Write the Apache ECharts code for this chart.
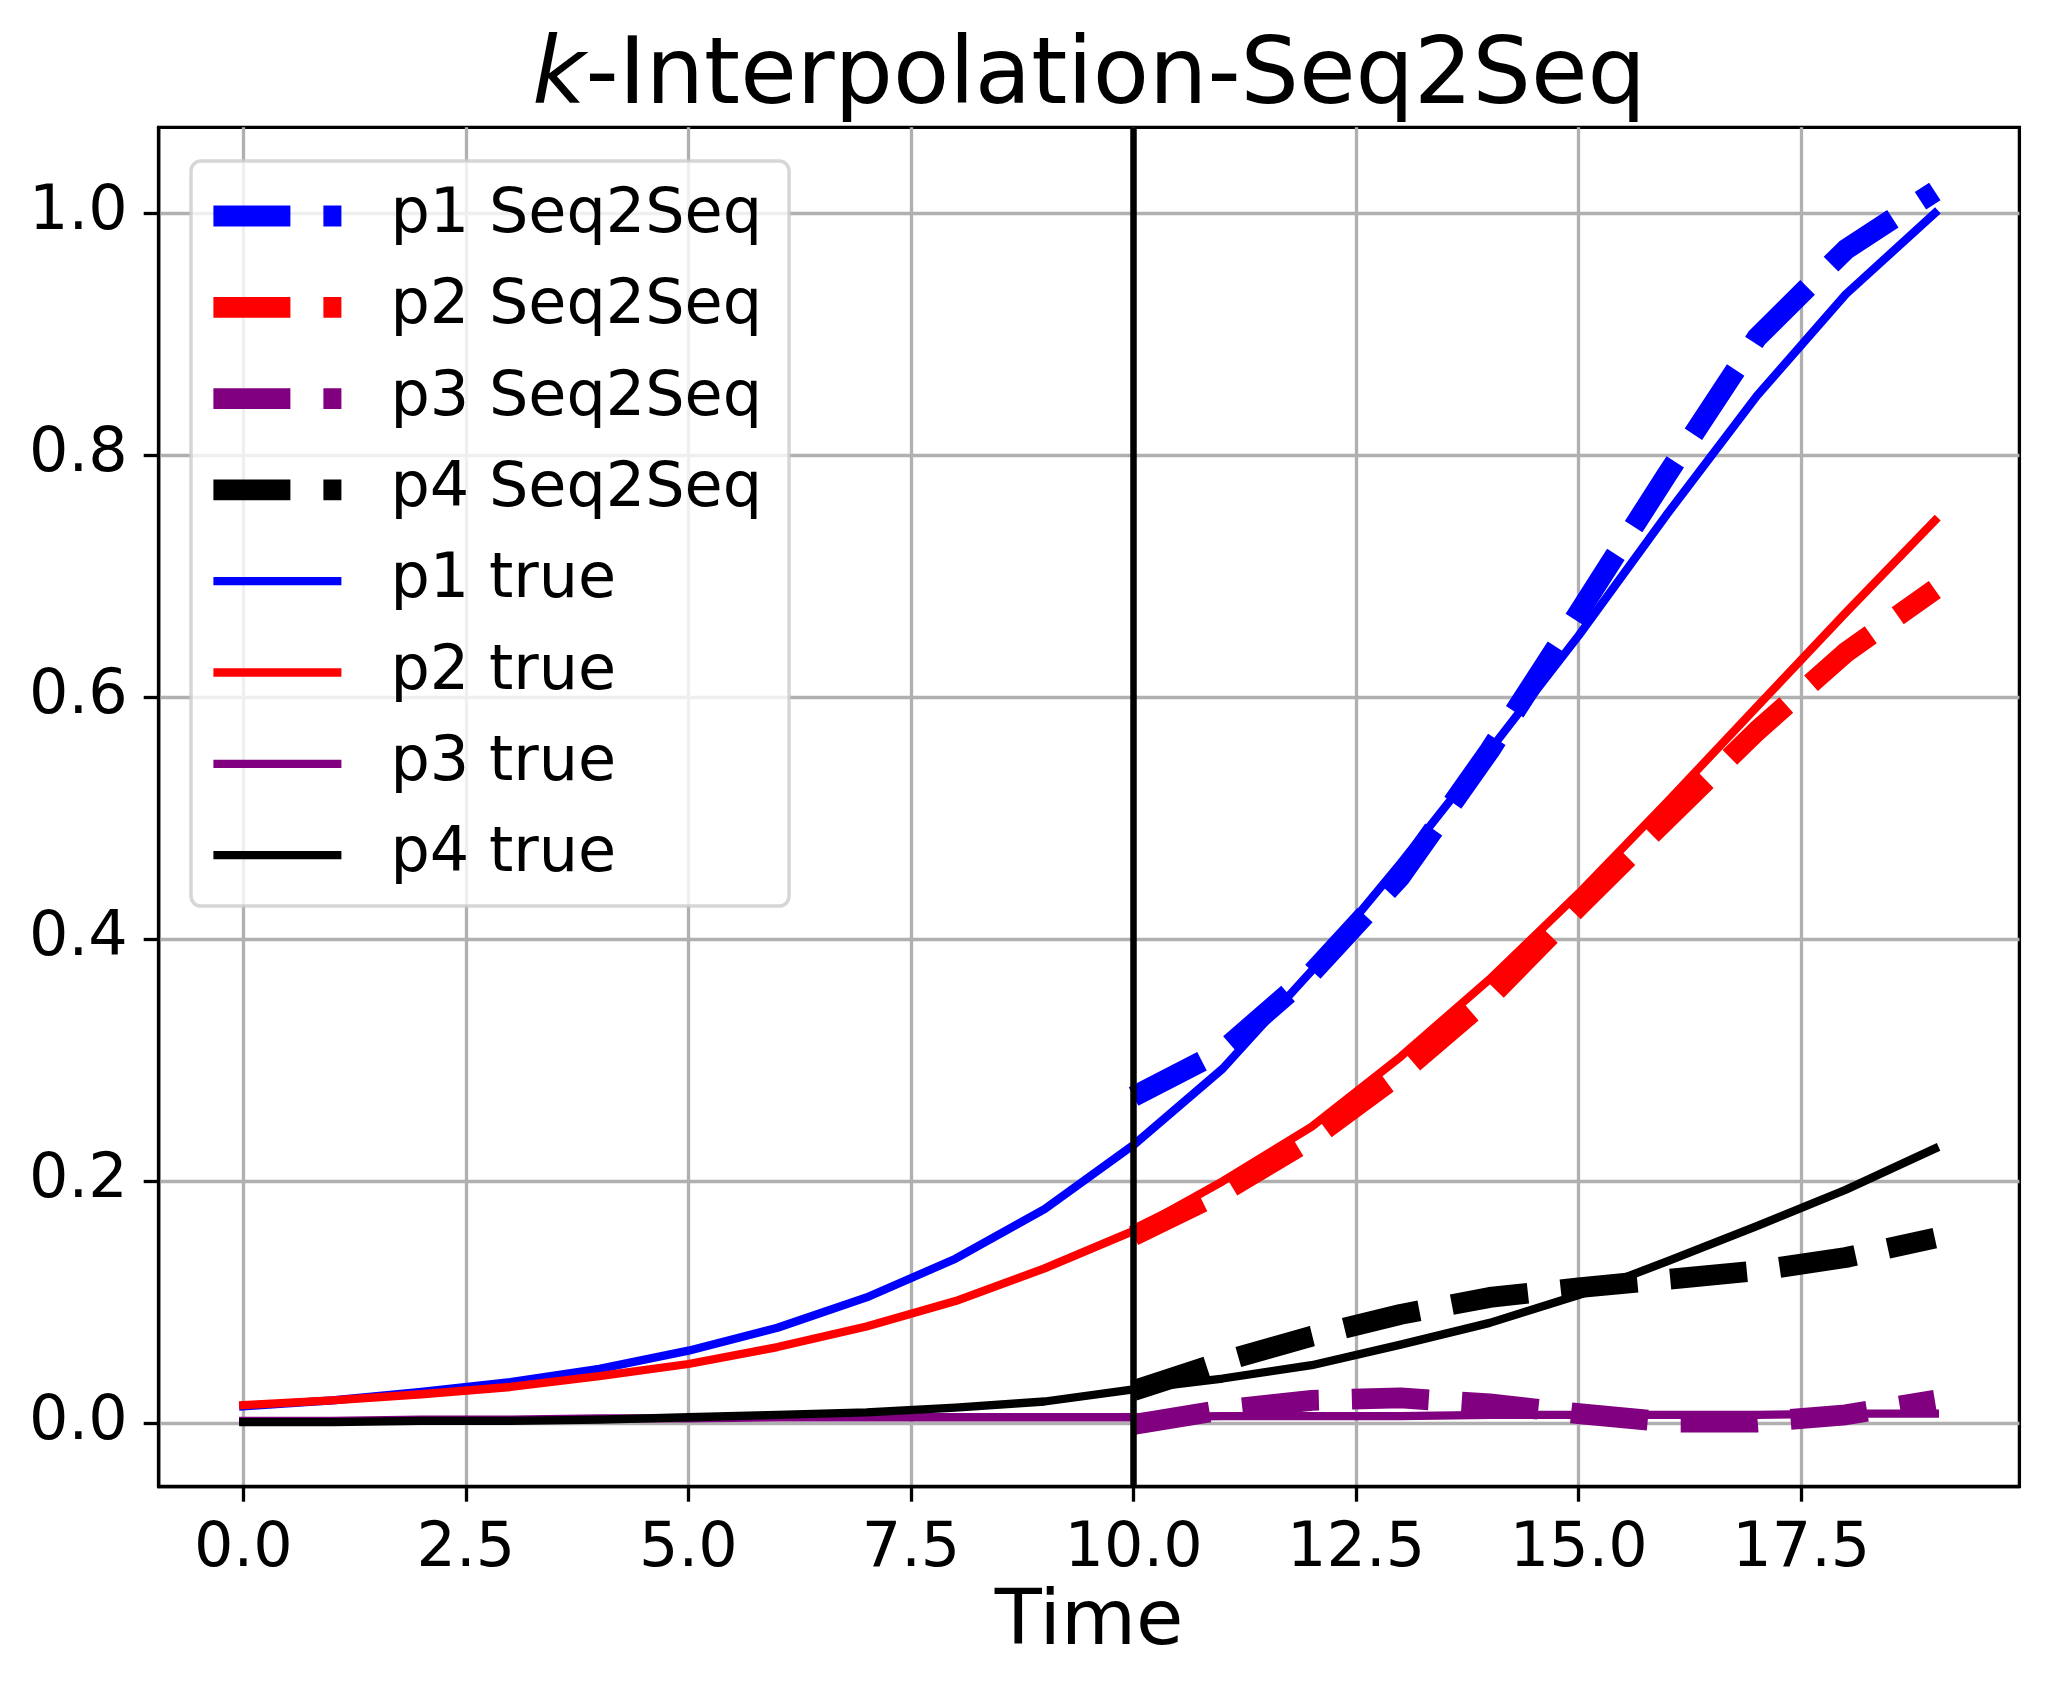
<!DOCTYPE html>
<html>
<head>
<meta charset="utf-8">
<script src="https://cdn.jsdelivr.net/npm/echarts@6/dist/echarts.min.js"></script>
<style>
  html, body { margin: 0; padding: 0; background: #fff; }
  #chart { width: 2048px; height: 1695px; }
</style>
</head>
<body>
<div id="chart"></div>
<script>
// time steps
const timeTrue = [0, 1, 2, 3, 4, 5, 6, 7, 8, 9, 10, 11, 12, 13, 14, 15, 16, 17, 18, 19]
const timePred = [10, 11, 12, 13, 14, 15, 16, 17, 18, 19]

// ground truth
const p1True = [0.014, 0.019, 0.026, 0.034, 0.045, 0.060, 0.079, 0.104, 0.136, 0.177, 0.230, 0.293, 0.374, 0.463, 0.556, 0.651, 0.752, 0.849, 0.933, 1.000]
const p2True = [0.015, 0.019, 0.024, 0.030, 0.039, 0.049, 0.063, 0.080, 0.101, 0.128, 0.159, 0.200, 0.245, 0.303, 0.367, 0.438, 0.514, 0.592, 0.670, 0.746]
const p3True = [0.002, 0.002, 0.003, 0.003, 0.004, 0.004, 0.005, 0.005, 0.005, 0.005, 0.005, 0.006, 0.006, 0.006, 0.007, 0.007, 0.007, 0.007, 0.008, 0.008]
const p4True = [0.001, 0.001, 0.002, 0.002, 0.003, 0.005, 0.007, 0.009, 0.013, 0.018, 0.028, 0.037, 0.048, 0.065, 0.083, 0.106, 0.134, 0.163, 0.193, 0.227]

// Seq2Seq predictions (from t = 10)
const p1Pred = [0.270, 0.308, 0.372, 0.452, 0.556, 0.670, 0.785, 0.897, 0.970, 1.018]
const p2Pred = [0.155, 0.191, 0.235, 0.289, 0.352, 0.427, 0.500, 0.572, 0.637, 0.689]
const p3Pred = [-0.001, 0.011, 0.019, 0.021, 0.016, 0.008, 0.001, 0.001, 0.007, 0.019]
const p4Pred = [0.027, 0.051, 0.072, 0.090, 0.104, 0.112, 0.119, 0.126, 0.137, 0.153]

const xTicks = [0, 2.5, 5, 7.5, 10, 12.5, 15, 17.5]
const yTicks = [0, 0.2, 0.4, 0.6, 0.8, 1.0]
const splitTime = 10

const FONT = 'DejaVu Sans'
const THICK = 20.8
const THIN = 8.3
const DASH = [77, 33]
const TITLE_SIZE = 92

const chart = echarts.init(document.getElementById('chart'))

const pairs = (xs, ys) => xs.map((x, i) => [x, ys[i]])

const predLine = (name, color, xs, ys) => ({
  name: name,
  type: 'line',
  symbol: 'none',
  data: pairs(xs, ys),
  lineStyle: {color: color, width: THICK, type: DASH, cap: 'butt', join: 'round'},
  itemStyle: {color: color},
  z: 2
})
const trueLine = (name, color, xs, ys) => ({
  name: name,
  type: 'line',
  symbol: 'none',
  data: pairs(xs, ys),
  lineStyle: {color: color, width: THIN, type: 'solid', cap: 'square', join: 'round'},
  itemStyle: {color: color},
  z: 3
})

const series = [
  predLine('p1 Seq2Seq', '#0000ff', timePred, p1Pred),
  predLine('p2 Seq2Seq', '#ff0000', timePred, p2Pred),
  predLine('p3 Seq2Seq', '#800080', timePred, p3Pred),
  predLine('p4 Seq2Seq', '#000000', timePred, p4Pred),
  trueLine('p1 true', '#0000ff', timeTrue, p1True),
  trueLine('p2 true', '#ff0000', timeTrue, p2True),
  trueLine('p3 true', '#800080', timeTrue, p3True),
  trueLine('p4 true', '#000000', timeTrue, p4True)
]
// vertical line at the split point
series[7].markLine = {
  silent: true,
  symbol: 'none',
  label: {show: false},
  lineStyle: {color: '#000', width: 6.5, type: 'solid'},
  data: [{xAxis: splitTime}]
}

// centre the title over the plot area
const gridLeft = 158.7, gridRight = 28.6
const ctx = document.createElement('canvas').getContext('2d')
ctx.font = 'italic ' + TITLE_SIZE + 'px "' + FONT + '"'
let titleW = ctx.measureText('k').width
ctx.font = TITLE_SIZE + 'px "' + FONT + '"'
titleW += ctx.measureText('-Interpolation-Seq2Seq').width
const plotCenter = gridLeft + (2048 - gridLeft - gridRight) / 2

const option = {
  animation: false,
  backgroundColor: '#fff',
  title: {
    text: '{i|k}-Interpolation-Seq2Seq',
    left: plotCenter - titleW / 2,
    top: 33,
    padding: 0,
    textStyle: {
      fontFamily: FONT, fontSize: TITLE_SIZE, fontWeight: 'normal', color: '#000', lineHeight: 92,
      rich: {i: {fontFamily: FONT, fontSize: TITLE_SIZE, fontStyle: 'italic', color: '#000', lineHeight: 92}}
    }
  },
  legend: {
    orient: 'vertical',
    left: 191,
    top: 161,
    data: series.map(s => ({
      name: s.name,
      lineStyle: {width: s.lineStyle.width, type: s.lineStyle.type, color: s.lineStyle.color, cap: 'butt'}
    })),
    itemWidth: 128,
    itemHeight: 60,
    itemGap: 29.3,
    padding: [24, 27, 20, 12],
    backgroundColor: 'rgba(255,255,255,0.8)',
    borderColor: 'rgba(204,204,204,0.8)',
    borderWidth: 3.5,
    borderRadius: 10,
    selectedMode: false,
    itemStyle: {opacity: 0},
    textStyle: {fontFamily: FONT, fontSize: 62, color: '#000', lineHeight: 60, padding: [0, 0, 0, 44]}
  },
  grid: {
    left: gridLeft, right: gridRight, top: 127.3, bottom: 208.3,
    show: true, borderColor: '#000', borderWidth: 3.3, backgroundColor: 'transparent'
  },
  xAxis: {
    type: 'value',
    min: -0.95,
    max: 19.95,
    name: 'Time',
    nameLocation: 'middle',
    nameGap: 73,
    nameTextStyle: {fontFamily: FONT, fontSize: 77, color: '#000'},
    axisLine: {show: true, onZero: false, lineStyle: {color: '#000', width: 3.3}},
    axisTick: {show: true, customValues: xTicks, length: 15, inside: false, lineStyle: {color: '#000', width: 3.3}},
    axisLabel: {
      customValues: xTicks, margin: 32,
      fontFamily: FONT, fontSize: 62, color: '#000',
      formatter: v => v.toFixed(1)
    },
    splitLine: {show: true, lineStyle: {color: '#b0b0b0', width: 3.3}}
  },
  yAxis: {
    type: 'value',
    min: -0.0524,
    max: 1.071,
    axisLine: {show: true, onZero: false, lineStyle: {color: '#000', width: 3.3}},
    axisTick: {show: true, customValues: yTicks, length: 15, inside: false, lineStyle: {color: '#000', width: 3.3}},
    axisLabel: {
      customValues: yTicks, margin: 31,
      fontFamily: FONT, fontSize: 62, color: '#000',
      formatter: v => v.toFixed(1)
    },
    splitLine: {show: true, lineStyle: {color: '#b0b0b0', width: 3.3}}
  },
  series: series
}

chart.setOption(option)
</script>
</body>
</html>
